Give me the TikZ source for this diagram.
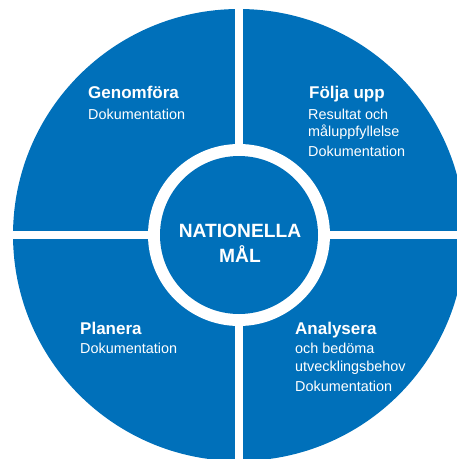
\documentclass[tikz,border=0pt]{standalone}
\usepackage{fontspec}
\setmainfont{Liberation Sans}
\definecolor{cblue}{RGB}{0,112,186}
\begin{document}
\begin{tikzpicture}[x=1pt,y=-1pt,
  head/.style={anchor=base west,inner sep=0pt,text=white,font=\fontsize{17}{20}\selectfont\bfseries},
  body/.style={anchor=base west,inner sep=0pt,text=white,font=\fontsize{14.4}{17}\selectfont},
  centre/.style={align=center,inner sep=0pt,text=white,font=\fontsize{19.2}{25}\selectfont\bfseries}]
\useasboundingbox (0,0) rectangle (457,459);
\begin{scope}
\clip (0,0) rectangle (457,459);
\fill[cblue] (239,235) circle[radius=226];
\fill[white] (235,0) rectangle (243,459);
\fill[white] (0,231) rectangle (457,239);
\fill[white] (239,235) circle[radius=91];
\fill[cblue] (239,235) circle[radius=79];
\end{scope}
\node[centre] (goal) at (240,243) {NATIONELLA\\MÅL};
% top left
\node[head] (gen) at (88,98) {Genomföra};
\node[body] (genD) at (88,119) {Dokumentation};
% top right
\node[head] (fol) at (309,98) {Följa upp};
\node[body] (folA) at (308,119) {Resultat och};
\node[body] (folB) at (308,136) {måluppfyllelse};
\node[body] (folD) at (308,156) {Dokumentation};
% bottom left
\node[head] (pla) at (80,334) {Planera};
\node[body] (plaD) at (80,353) {Dokumentation};
% bottom right
\node[head] (ana) at (295,334) {Analysera};
\node[body] (anaA) at (295,353) {och bedöma};
\node[body] (anaB) at (295,371) {utvecklingsbehov};
\node[body] (anaD) at (295,391) {Dokumentation};
\end{tikzpicture}
\end{document}
